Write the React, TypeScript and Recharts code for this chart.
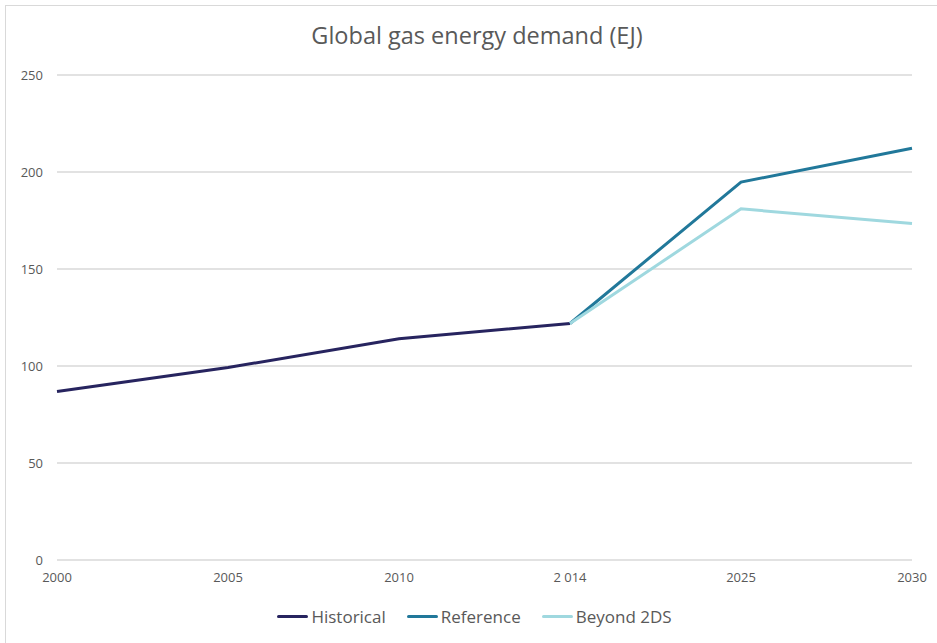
import React from "react";
import {
  LineChart,
  Line,
  XAxis,
  YAxis,
  CartesianGrid,
  Legend,
} from "recharts";

const years = ["2000", "2005", "2010", "2 014", "2025", "2030"];
const historical = [86.8, 99.2, 114.1, 121.9, null, null];
const reference = [null, null, null, 121.9, 194.8, 212.2];
const beyond2ds = [null, null, null, 121.9, 181.0, 173.5];
const yTicks = [0, 50, 100, 150, 200, 250];

const series = [
  { key: "historical", name: "Historical", color: "#27245f" },
  { key: "reference", name: "Reference", color: "#21789a" },
  { key: "beyond2ds", name: "Beyond 2DS", color: "#9fd8df" },
];

const data = years.map((year, i) => ({
  year,
  historical: historical[i],
  reference: reference[i],
  beyond2ds: beyond2ds[i],
}));

const FONT = "'Open Sans', sans-serif";
const TEXT = "#595959";
const GRID = "#d9d9d9";

function LegendRow() {
  return (
    <div
      style={{
        display: "flex",
        justifyContent: "center",
        alignItems: "center",
        height: 30,
        fontFamily: FONT,
        fontSize: 17,
        color: TEXT,
        paddingLeft: 37,
      }}
    >
      {series.map((s, i) => (
        <div
          key={s.key}
          style={{
            display: "flex",
            alignItems: "center",
            marginLeft: i === 0 ? 0 : 21,
          }}
        >
          <span
            style={{
              display: "inline-block",
              width: 31,
              height: 3,
              borderRadius: 2,
              background: s.color,
              marginRight: 3,
            }}
          />
          <span>{s.name}</span>
        </div>
      ))}
    </div>
  );
}

export default function App() {
  return (
    <div
      style={{
        position: "absolute",
        left: 0,
        top: 0,
        width: 937,
        height: 643,
        background: "#fff",
        overflow: "hidden",
      }}
    >
      <div
        style={{
          position: "absolute",
          left: 5,
          top: 5,
          width: 1000,
          height: 700,
          borderLeft: `1px solid ${GRID}`,
          borderTop: `1px solid ${GRID}`,
        }}
      />
      <div
        style={{
          position: "absolute",
          left: 0,
          top: 19,
          width: 954,
          textAlign: "center",
          fontFamily: FONT,
          fontSize: 23.5,
          color: TEXT,
        }}
      >
        Global gas energy demand (EJ)
      </div>
      <div style={{ position: "absolute", left: 0, top: 0 }}>
        <LineChart
          width={937}
          height={643}
          data={data}
          margin={{ top: 75, right: 25, bottom: 23, left: 0 }}
        >
          <CartesianGrid vertical={false} stroke={GRID} strokeWidth={1.5} />
          <XAxis
            dataKey="year"
            interval={0}
            axisLine={false}
            tickLine={false}
            tickSize={0}
            tickMargin={13}
            height={30}
            tick={{ fill: TEXT, fontSize: 13, fontFamily: FONT }}
          />
          <YAxis
            domain={[0, 250]}
            ticks={yTicks}
            width={57}
            axisLine={false}
            tickLine={false}
            tickSize={0}
            tickMargin={14}
            tick={{ fill: TEXT, fontSize: 13, fontFamily: FONT }}
          />
          <Legend
            verticalAlign="bottom"
            wrapperStyle={{ bottom: 12 }}
            content={() => <LegendRow />}
          />
          {series.map((s) => (
            <Line
              key={s.key}
              dataKey={s.key}
              name={s.name}
              stroke={s.color}
              strokeWidth={3}
              dot={false}
              activeDot={false}
              type="linear"
              isAnimationActive={false}
            />
          ))}
        </LineChart>
      </div>
    </div>
  );
}
